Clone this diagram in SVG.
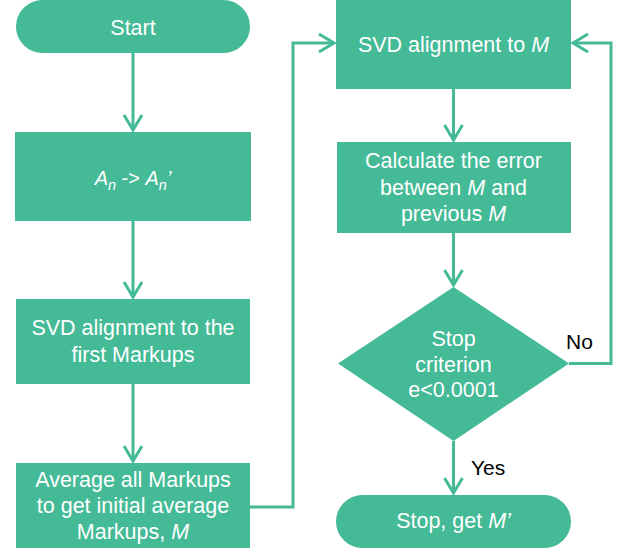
<svg xmlns="http://www.w3.org/2000/svg" width="622" height="554" viewBox="0 0 622 554">
<style>
.n{fill:#44BA96;}
.t{font-family:"Liberation Sans",Arial,sans-serif;font-size:21.5px;fill:#fff;text-anchor:middle;}
.l{font-family:"Liberation Sans",Arial,sans-serif;font-size:21px;fill:#000;}
.c{fill:none;stroke:#44BA96;stroke-width:3;marker-end:url(#arr);}
.i{font-style:italic;}
</style>
<defs>
<marker id="arr" markerUnits="userSpaceOnUse" markerWidth="22" markerHeight="24" viewBox="-3 -12 22 24" refX="15" refY="0" orient="auto">
<path d="M0,-9 L15,0 L0,9" fill="none" stroke="#44BA96" stroke-width="3"/>
</marker>
</defs>
<g id="connectors">
<path class="c" d="M133,53 V130"/>
<path class="c" d="M133,221 V297"/>
<path class="c" d="M133,384 V461"/>
<path class="c" d="M250,507 H293 V43 H334"/>
<path class="c" d="M453.5,89 V140"/>
<path class="c" d="M453.5,233 V285"/>
<path class="c" d="M453.5,441 V493"/>
<path class="c" d="M569,363.5 H611 V43 H573"/>
</g>
<g id="start">
<rect class="n" x="16" y="0" width="234" height="53" rx="26.5"/>
<text class="t" x="133" y="35">Start</text>
</g>
<g id="an">
<rect class="n" x="15" y="132" width="236" height="89"/>
<text class="t" x="133" y="185" style="font-size:20px"><tspan class="i">A</tspan><tspan class="i" dy="5" style="font-size:14.5px">n</tspan><tspan dy="-5"> -&gt; </tspan><tspan class="i">A</tspan><tspan class="i" dy="5" style="font-size:14.5px">n</tspan><tspan class="i" dy="-5">’</tspan></text>
</g>
<g id="svd-first">
<rect class="n" x="16" y="299" width="234" height="85"/>
<text class="t" x="133" y="335">SVD alignment to the</text>
<text class="t" x="133" y="361.5">first Markups</text>
</g>
<g id="average">
<rect class="n" x="16" y="463" width="234" height="85"/>
<text class="t" x="133" y="487">Average all Markups</text>
<text class="t" x="133" y="513">to get initial average</text>
<text class="t" x="133" y="539">Markups, <tspan class="i">M</tspan></text>
</g>
<g id="svd-m">
<rect class="n" x="336" y="0" width="235" height="89"/>
<text class="t" x="453.5" y="52">SVD alignment to <tspan class="i">M</tspan></text>
</g>
<g id="calc">
<rect class="n" x="337" y="142" width="234" height="91"/>
<text class="t" x="453.5" y="168">Calculate the error</text>
<text class="t" x="453.5" y="194.5">between <tspan class="i">M</tspan> and</text>
<text class="t" x="453.5" y="221">previous <tspan class="i">M</tspan></text>
</g>
<g id="decision">
<polygon class="n" points="453.5,287 569,363.5 453.5,441 338,363.5"/>
<text class="t" x="453.5" y="346">Stop</text>
<text class="t" x="453.5" y="371.5">criterion</text>
<text class="t" x="453.5" y="397">e&lt;0.0001</text>
<text class="l" x="566" y="349">No</text>
<text class="l" x="471" y="475">Yes</text>
</g>
<g id="stop">
<rect class="n" x="336" y="495" width="235" height="53" rx="26.5"/>
<text class="t" x="453.5" y="528">Stop, get <tspan class="i">M’</tspan></text>
</g>
</svg>
